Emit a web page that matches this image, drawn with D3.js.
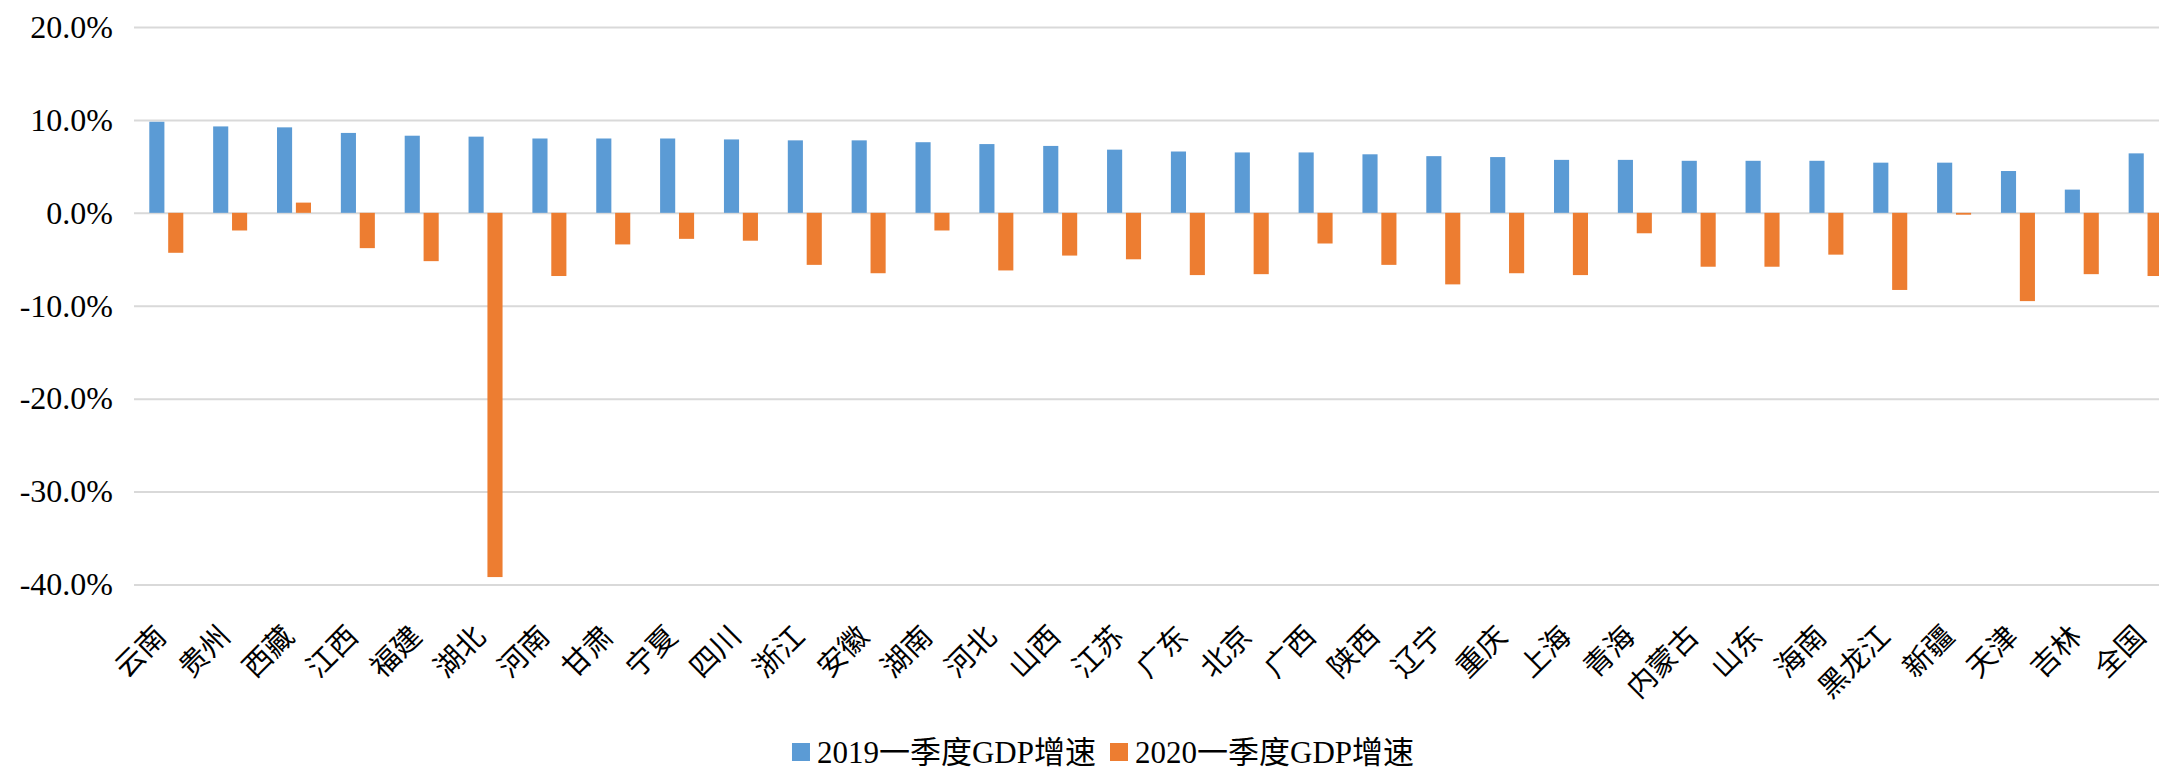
<!DOCTYPE html>
<html>
<head>
<meta charset="utf-8">
<script src="https://cdn.jsdelivr.net/npm/d3@7"></script>
<style>
  body { margin: 0; background: #fff; }
  text { font-family: "Liberation Serif", "Noto Sans CJK SC", serif; fill: #000; }
</style>
</head>
<body>
<svg id="chart"></svg>
<script>
// 各省 2019 / 2020 一季度 GDP 增速 (%)
const categories = ['云南', '贵州', '西藏', '江西', '福建', '湖北', '河南', '甘肃', '宁夏', '四川',
  '浙江', '安徽', '湖南', '河北', '山西', '江苏', '广东', '北京', '广西', '陕西', '辽宁', '重庆',
  '上海', '青海', '内蒙古', '山东', '海南', '黑龙江', '新疆', '天津', '吉林', '全国'];
const gdp2019 = [9.8, 9.3, 9.2, 8.6, 8.3, 8.2, 8.0, 8.0, 8.0, 7.9,
  7.8, 7.8, 7.6, 7.4, 7.2, 6.8, 6.6, 6.5, 6.5, 6.3, 6.1, 6.0,
  5.7, 5.7, 5.6, 5.6, 5.6, 5.4, 5.4, 4.5, 2.5, 6.4];
const gdp2020 = [-4.3, -1.9, 1.1, -3.8, -5.2, -39.2, -6.8, -3.4, -2.8, -3.0,
  -5.6, -6.5, -1.9, -6.2, -4.6, -5.0, -6.7, -6.6, -3.3, -5.6, -7.7, -6.5,
  -6.7, -2.2, -5.8, -5.8, -4.5, -8.3, -0.2, -9.5, -6.6, -6.8];
const yTicks = [20, 10, 0, -10, -20, -30, -40];
const seriesNames = ['2019一季度GDP增速', '2020一季度GDP增速'];
const seriesColors = ['#5B9BD5', '#ED7D31'];

const W = 2159, H = 773;
const left = 134, step = 63.85;

const svg = d3.select('#chart').attr('width', W).attr('height', H);

const x0 = d3.scaleBand()
  .domain(categories)
  .range([left, left + step * categories.length]);
const x1 = d3.scaleBand()
  .domain([0, 1])
  .range([15.3, 49.3])
  .paddingInner(0.2);
const y = d3.scaleLinear().domain([-40, 20]).range([584.5, 27]);

// gridlines + y labels
const yAxis = svg.append('g')
  .attr('transform', `translate(${left},0)`)
  .call(d3.axisLeft(y)
    .tickValues(yTicks)
    .tickSize(-(W - left))
    .tickPadding(21)
    .tickFormat(d => d.toFixed(1) + '%'));
yAxis.select('.domain').remove();
yAxis.selectAll('line').attr('stroke', '#D9D9D9').attr('stroke-width', 2);
yAxis.selectAll('text')
  .attr('font-size', 32)
  .style('font-family', '"Liberation Serif", serif');

// bars
const rows = categories.map((c, i) => ({ c, vals: [gdp2019[i], gdp2020[i]] }));
const groups = svg.append('g').selectAll('g')
  .data(rows)
  .join('g')
  .attr('transform', d => `translate(${x0(d.c)},0)`);

groups.selectAll('rect')
  .data(d => d.vals.map((v, s) => ({ v, s })))
  .join('rect')
  .attr('x', d => x1(d.s))
  .attr('width', x1.bandwidth())
  .attr('y', d => y(Math.max(0, d.v)))
  .attr('height', d => Math.abs(y(d.v) - y(0)))
  .attr('fill', d => seriesColors[d.s]);

// category labels, rotated
svg.append('g').selectAll('text')
  .data(categories)
  .join('text')
  .attr('transform', d => `translate(${x0(d) + x0.bandwidth() / 2 - 5},631) rotate(-45)`)
  .attr('text-anchor', 'end')
  .attr('dy', '0.35em')
  .attr('font-size', 29)
  .style('font-family', '"Noto Sans CJK SC", sans-serif')
  .text(d => d);

// legend, centred under the plot
const legend = svg.append('g');
const items = legend.selectAll('g')
  .data(seriesNames)
  .join('g');
items.append('rect')
  .attr('width', 18).attr('height', 18)
  .attr('y', -9)
  .attr('fill', (d, i) => seriesColors[i]);
items.append('text')
  .attr('x', 25)
  .attr('dy', '0.35em')
  .attr('font-size', 31)
  .text(d => d);

let pos = 0;
items.each(function () {
  const w = 25 + this.querySelector('text').getComputedTextLength();
  d3.select(this).attr('transform', `translate(${pos},0)`);
  pos += w + 14;
});
const total = pos - 14;
legend.attr('transform', `translate(${1103 - total / 2},752)`);
</script>
</body>
</html>
